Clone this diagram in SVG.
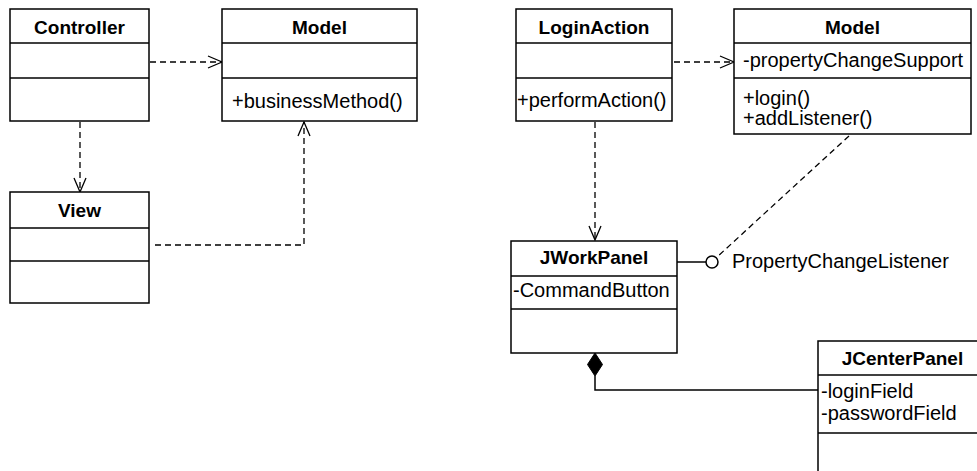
<svg xmlns="http://www.w3.org/2000/svg" width="977" height="471" viewBox="0 0 977 471">
<defs>
<style>
.box{fill:#fff;stroke:#000;stroke-width:1.5}
.div{stroke:#000;stroke-width:1.5}
.t{font-family:"Liberation Sans",Arial,sans-serif;font-weight:bold;font-size:19px;text-anchor:middle;fill:#000}
.r{font-family:"Liberation Sans",Arial,sans-serif;font-size:20px;fill:#000}
.dash{fill:none;stroke:#000;stroke-width:1.3;stroke-dasharray:6,4}
.solid{fill:none;stroke:#000;stroke-width:1.5}
</style>
<marker id="open" markerUnits="userSpaceOnUse" viewBox="0 0 16 14" refX="15" refY="7" markerWidth="16" markerHeight="14" orient="auto">
<path d="M1,1 L15,7 L1,13" fill="none" stroke="#000" stroke-width="1.3"/>
</marker>
</defs>
<rect width="977" height="471" fill="#fff"/>
<g id="connectors">
<path class="dash" d="M150,62 H222" marker-end="url(#open)"/>
<path class="dash" d="M80,122 V192" marker-end="url(#open)"/>
<path class="dash" d="M155,245 H304 V122" marker-end="url(#open)"/>
<path class="dash" d="M674,62 H734" marker-end="url(#open)"/>
<path class="dash" d="M595,122 V240" marker-end="url(#open)"/>
<path class="dash" d="M849,136 L717,257"/>
<path class="solid" d="M677,262 H706"/>
<circle cx="712" cy="262" r="6" fill="#fff" stroke="#000" stroke-width="1.5"/>
<path class="solid" d="M595,376 V390 H818"/>
<path d="M595,353 L602.5,364.5 L595,376 L587.5,364.5 Z" fill="#000" stroke="#000" stroke-width="1"/>
<text class="r" x="732" y="268">PropertyChangeListener</text>
</g>
<g id="controller">
<rect class="box" x="10" y="9" width="139" height="112"/>
<line class="div" x1="10" y1="43" x2="149" y2="43"/>
<line class="div" x1="10" y1="78" x2="149" y2="78"/>
<text class="t" x="79.5" y="34">Controller</text>
</g>
<g id="model1">
<rect class="box" x="222" y="9" width="195" height="112"/>
<line class="div" x1="222" y1="43" x2="417" y2="43"/>
<line class="div" x1="222" y1="78" x2="417" y2="78"/>
<text class="t" x="319.5" y="34">Model</text>
<text class="r" x="232" y="108">+businessMethod()</text>
</g>
<g id="view">
<rect class="box" x="10" y="192" width="139" height="111"/>
<line class="div" x1="10" y1="228" x2="149" y2="228"/>
<line class="div" x1="10" y1="261" x2="149" y2="261"/>
<text class="t" x="79.5" y="217">View</text>
</g>
<g id="loginaction">
<rect class="box" x="516" y="9" width="156" height="112"/>
<line class="div" x1="516" y1="43" x2="672" y2="43"/>
<line class="div" x1="516" y1="78" x2="672" y2="78"/>
<text class="t" x="594" y="34">LoginAction</text>
<text class="r" x="517" y="107">+performAction()</text>
</g>
<g id="model2">
<rect class="box" x="734" y="9" width="237" height="125"/>
<line class="div" x1="734" y1="43" x2="971" y2="43"/>
<line class="div" x1="734" y1="78" x2="971" y2="78"/>
<text class="t" x="852.5" y="34">Model</text>
<text class="r" x="743" y="67">-propertyChangeSupport</text>
<text class="r" x="743" y="105">+login()</text>
<text class="r" x="743" y="125">+addListener()</text>
</g>
<g id="jworkpanel">
<rect class="box" x="511" y="241" width="166" height="112"/>
<line class="div" x1="511" y1="276" x2="677" y2="276"/>
<line class="div" x1="511" y1="309" x2="677" y2="309"/>
<text class="t" x="594" y="264">JWorkPanel</text>
<text class="r" x="513" y="297">-CommandButton</text>
</g>
<g id="jcenterpanel">
<rect class="box" x="818" y="341" width="169" height="140"/>
<line class="div" x1="818" y1="375" x2="987" y2="375"/>
<line class="div" x1="818" y1="433" x2="987" y2="433"/>
<text class="t" x="902.5" y="365">JCenterPanel</text>
<text class="r" x="821" y="398">-loginField</text>
<text class="r" x="821" y="420">-passwordField</text>
</g>
</svg>
